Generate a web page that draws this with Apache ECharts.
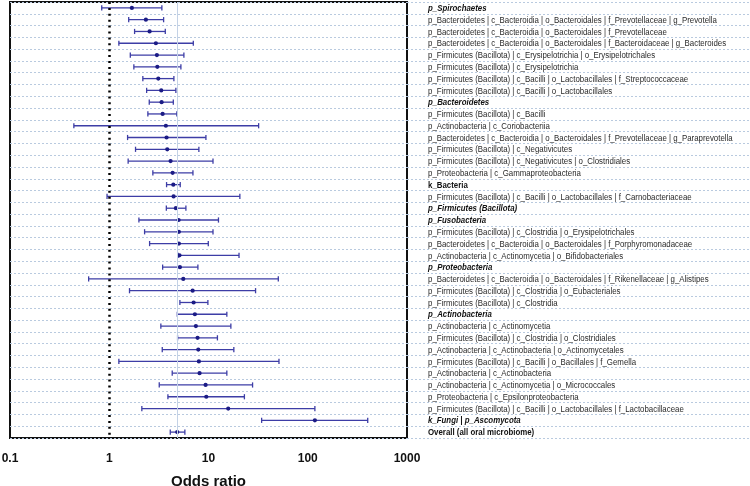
<!DOCTYPE html>
<html>
<head>
<meta charset="utf-8">
<script src="https://cdn.jsdelivr.net/npm/echarts@6/dist/echarts.min.js"></script>
<style>
  html, body { margin: 0; padding: 0; background: #fff; }
  #chart { width: 750px; height: 486px; }
</style>
</head>
<body>
<div id="chart"></div>
<script>
// taxa, top to bottom
const taxa = [
  "p_Spirochaetes",
  "p_Bacteroidetes | c_Bacteroidia | o_Bacteroidales | f_Prevotellaceae | g_Prevotella",
  "p_Bacteroidetes | c_Bacteroidia | o_Bacteroidales | f_Prevotellaceae",
  "p_Bacteroidetes | c_Bacteroidia | o_Bacteroidales | f_Bacteroidaceae | g_Bacteroides",
  "p_Firmicutes (Bacillota) | c_Erysipelotrichia | o_Erysipelotrichales",
  "p_Firmicutes (Bacillota) | c_Erysipelotrichia",
  "p_Firmicutes (Bacillota) | c_Bacilli | o_Lactobacillales | f_Streptococcaceae",
  "p_Firmicutes (Bacillota) | c_Bacilli | o_Lactobacillales",
  "p_Bacteroidetes",
  "p_Firmicutes (Bacillota) | c_Bacilli",
  "p_Actinobacteria | c_Coriobacteriia",
  "p_Bacteroidetes | c_Bacteroidia | o_Bacteroidales | f_Prevotellaceae | g_Paraprevotella",
  "p_Firmicutes (Bacillota) | c_Negativicutes",
  "p_Firmicutes (Bacillota) | c_Negativicutes | o_Clostridiales",
  "p_Proteobacteria | c_Gammaproteobacteria",
  "k_Bacteria",
  "p_Firmicutes (Bacillota) | c_Bacilli | o_Lactobacillales | f_Carnobacteriaceae",
  "p_Firmicutes (Bacillota)",
  "p_Fusobacteria",
  "p_Firmicutes (Bacillota) | c_Clostridia | o_Erysipelotrichales",
  "p_Bacteroidetes | c_Bacteroidia | o_Bacteroidales | f_Porphyromonadaceae",
  "p_Actinobacteria | c_Actinomycetia | o_Bifidobacteriales",
  "p_Proteobacteria",
  "p_Bacteroidetes | c_Bacteroidia | o_Bacteroidales | f_Rikenellaceae | g_Alistipes",
  "p_Firmicutes (Bacillota) | c_Clostridia | o_Eubacteriales",
  "p_Firmicutes (Bacillota) | c_Clostridia",
  "p_Actinobacteria",
  "p_Actinobacteria | c_Actinomycetia",
  "p_Firmicutes (Bacillota) | c_Clostridia | o_Clostridiales",
  "p_Actinobacteria | c_Actinobacteria | o_Actinomycetales",
  "p_Firmicutes (Bacillota) | c_Bacilli | o_Bacillales | f_Gemella",
  "p_Actinobacteria | c_Actinobacteria",
  "p_Actinobacteria | c_Actinomycetia | o_Micrococcales",
  "p_Proteobacteria | c_Epsilonproteobacteria",
  "p_Firmicutes (Bacillota) | c_Bacilli | o_Lactobacillales | f_Lactobacillaceae",
  "k_Fungi | p_Ascomycota",
  "Overall (all oral microbiome)"
];

const oddsRatio = [
  1.69, 2.34, 2.55, 2.95, 3.02, 3.05, 3.12, 3.34, 3.37, 3.45,
  3.72, 3.78, 3.84, 4.15, 4.35, 4.42, 4.45, 4.69, 5.0, 5.03,
  5.03, 5.1, 5.15, 5.57, 6.92, 7.08, 7.29, 7.46, 7.76, 7.89,
  8.0, 8.13, 9.35, 9.5, 15.8, 118, 4.84
];
const ciLow = [
  0.84, 1.57, 1.8, 1.25, 1.63, 1.77, 2.18, 2.38, 2.53, 2.45,
  0.44, 1.53, 1.84, 1.55, 2.75, 3.78, 0.95, 3.76, 1.99, 2.27,
  2.55, 4.95, 3.45, 0.62, 1.6, 5.15, 4.85, 3.31, 4.88, 3.42,
  1.25, 4.31, 3.19, 3.9, 2.13, 34.3, 4.12
];
const ciHigh = [
  3.39, 3.53, 3.67, 7.03, 5.65, 5.27, 4.48, 4.69, 4.42, 4.8,
  32.0, 9.42, 8.0, 11.1, 6.97, 5.19, 20.7, 5.92, 12.6, 11.1,
  9.95, 20.3, 7.82, 50.5, 29.8, 9.86, 15.3, 16.8, 12.3, 18.0,
  51.3, 15.3, 27.8, 23.0, 118, 402, 5.78
];

const minorTicks = [];
[0.1, 1, 10, 100].forEach(d => {
  for (let k = 2; k <= 9; k++) minorTicks.push(+(d * k).toPrecision(3));
});

const boldItalicRows = [
  "p_Spirochaetes", "p_Bacteroidetes", "p_Firmicutes (Bacillota)", "p_Fusobacteria",
  "p_Proteobacteria", "p_Actinobacteria", "k_Fungi | p_Ascomycota"
];
const boldRows = ["k_Bacteria", "Overall (all oral microbiome)"];

const overallOR = oddsRatio[oddsRatio.length - 1];
const rowIdx = taxa.map((t, i) => String(i));
const forestData = taxa.map((t, i) => [i, ciLow[i], oddsRatio[i], ciHigh[i]]);
const labelData = taxa.map((t, i) => [0, i]);

const FONT = "'Liberation Sans', Arial, sans-serif";
const gridDash = { color: "#b9cadf", type: [2, 2], width: 1 };

const chart = echarts.init(document.getElementById("chart"));

chart.setOption({
  animation: false,
  textStyle: { fontFamily: FONT },
  grid: [
    { left: 10, right: 343, top: 2, bottom: 48, show: true, borderColor: "#111", borderWidth: 2, outerBoundsMode: "none" },
    { left: 407, right: 0, top: 2, bottom: 48, outerBoundsMode: "none" }
  ],
  xAxis: [
    {
      gridIndex: 0, type: "log", logBase: 10, min: 0.1, max: 1000,
      position: "bottom",
      axisLine: { lineStyle: { color: "#111", width: 2 } },
      axisTick: { length: 6, lineStyle: { color: "#111", width: 2 } },
      axisLabel: {
        color: "#111", fontSize: 12, fontWeight: "bold", margin: 15,
        formatter: v => String(+v.toPrecision(3))
      },
      splitLine: { show: false },
      name: "Odds ratio", nameLocation: "middle", nameGap: 36,
      nameTextStyle: { color: "#111", fontSize: 15, fontWeight: "bold" }
    },
    {
      gridIndex: 0, type: "log", logBase: 10, min: 0.1, max: 1000,
      position: "bottom",
      axisLine: { show: false },
      axisTick: { length: 3.5, customValues: minorTicks, lineStyle: { color: "#111", width: 1.5 } },
      axisLabel: { show: false },
      splitLine: { show: false }
    },
    { gridIndex: 1, type: "value", min: 0, max: 1, show: false }
  ],
  yAxis: [
    {
      gridIndex: 0, type: "category", data: rowIdx, inverse: true,
      axisLine: { show: false }, axisTick: { show: false }, axisLabel: { show: false },
      splitLine: { show: true, interval: 0, lineStyle: gridDash }
    },
    {
      gridIndex: 1, type: "category", data: rowIdx, inverse: true,
      axisLine: { show: false }, axisTick: { show: false }, axisLabel: { show: false },
      splitLine: { show: true, interval: 0, lineStyle: gridDash }
    }
  ],
  series: [
    {
      type: "custom",
      xAxisIndex: 0, yAxisIndex: 0,
      data: forestData,
      encode: { x: [1, 2, 3], y: 0 },
      renderItem: (params, api) => {
        const row = api.value(0);
        const lo = api.coord([api.value(1), row]);
        const mid = api.coord([api.value(2), row]);
        const hi = api.coord([api.value(3), row]);
        const lineCol = "#3d3da6";
        const cap = 2.6;
        return {
          type: "group",
          children: [
            { type: "line", shape: { x1: lo[0], y1: lo[1], x2: hi[0], y2: hi[1] }, style: { stroke: lineCol, lineWidth: 1.3 } },
            { type: "line", shape: { x1: lo[0], y1: lo[1] - cap, x2: lo[0], y2: lo[1] + cap }, style: { stroke: lineCol, lineWidth: 1.3 } },
            { type: "line", shape: { x1: hi[0], y1: hi[1] - cap, x2: hi[0], y2: hi[1] + cap }, style: { stroke: lineCol, lineWidth: 1.3 } },
            { type: "circle", shape: { cx: mid[0], cy: mid[1], r: 2.1 }, style: { fill: "#1b1b85" } }
          ]
        };
      },
      markLine: {
        silent: true, symbol: "none", label: { show: false },
        data: [
          { xAxis: 1, lineStyle: { color: "#000", width: 2.5, type: [2, 3.9] } },
          { xAxis: overallOR, lineStyle: { color: "#c4d2e6", width: 1, type: "solid" } }
        ]
      },
      z: 3
    },
    {
      // taxon names in the right-hand panel
      type: "custom",
      xAxisIndex: 2, yAxisIndex: 1,
      data: labelData,
      encode: { x: 0, y: 1 },
      silent: true,
      renderItem: (params, api) => {
        const i = api.value(1);
        const p = api.coord([0, i]);
        const name = taxa[i];
        const bi = boldItalicRows.includes(name);
        const b = boldRows.includes(name);
        return {
          type: "text",
          x: p[0] + 21,
          y: p[1] + 0.5,
          scaleX: 0.82,
          style: {
            text: name,
            fontFamily: FONT,
            fontSize: 9.6,
            fontWeight: (bi || b) ? "bold" : "normal",
            fontStyle: bi ? "italic" : "normal",
            fill: (bi || b) ? "#111" : "#2a2a2a",
            align: "left",
            verticalAlign: "middle"
          }
        };
      }
    }
  ]
});
</script>
</body>
</html>
